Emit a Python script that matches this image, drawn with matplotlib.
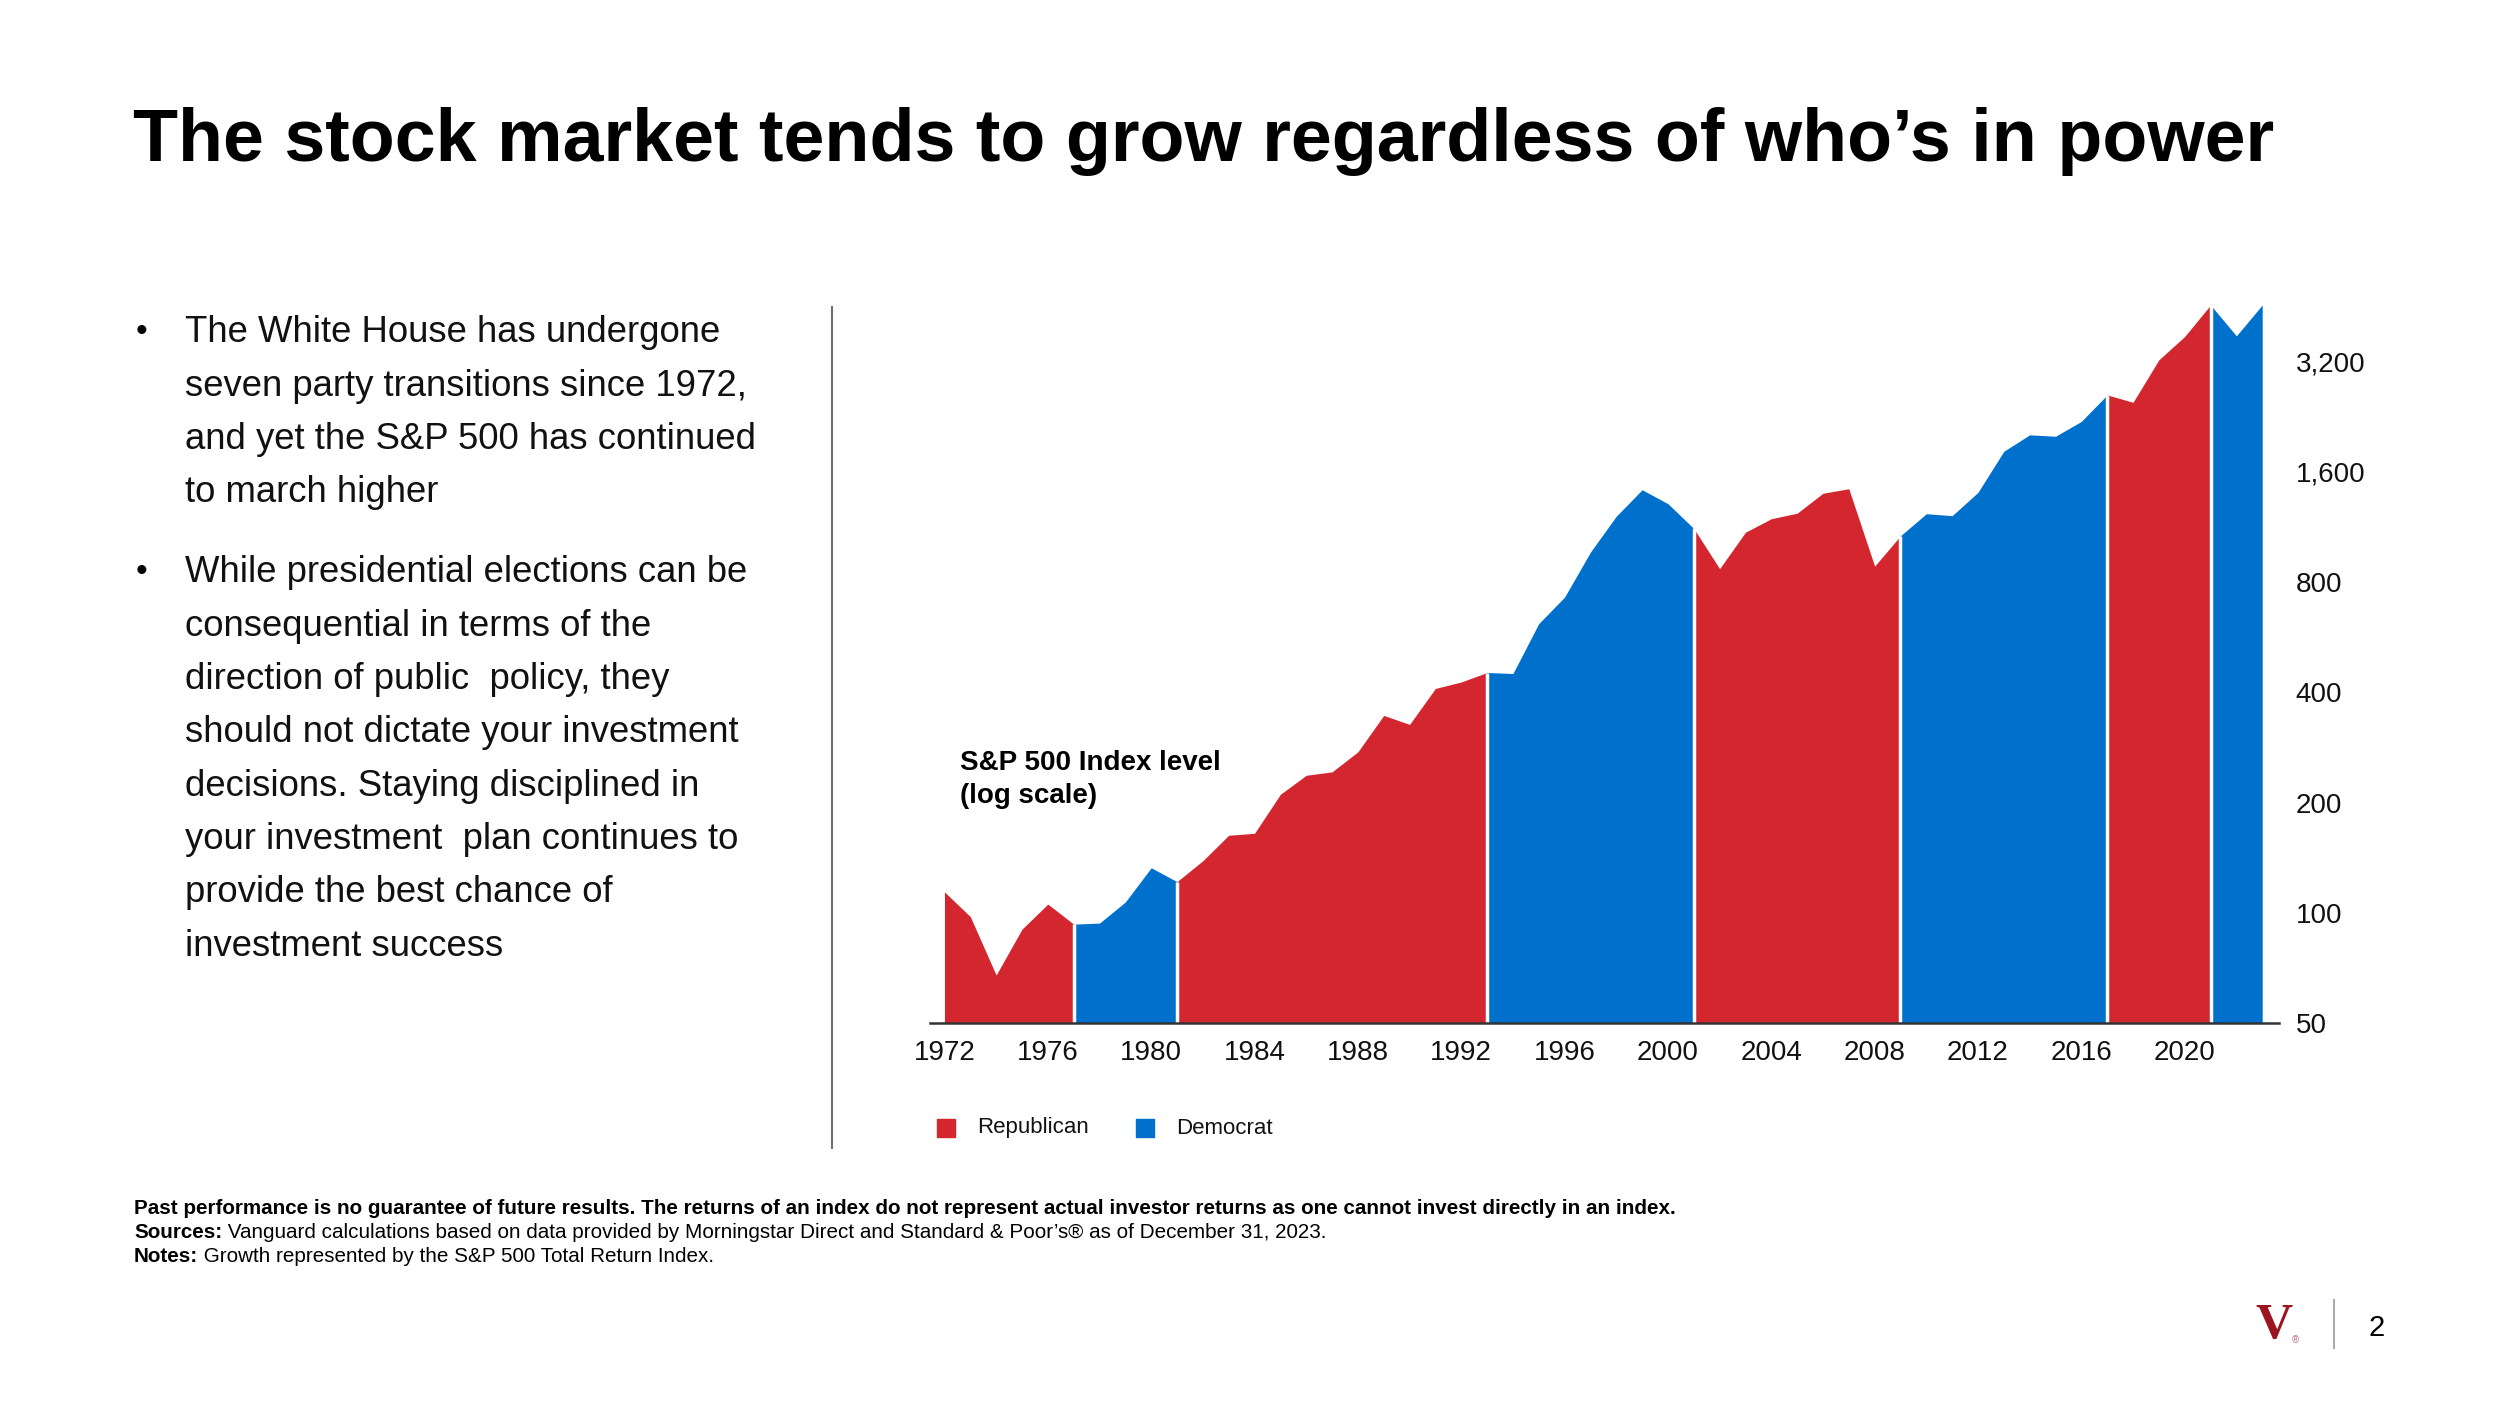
import matplotlib
matplotlib.use('Agg')
import matplotlib.pyplot as plt
import numpy as np

plt.rcParams['font.family'] = ['Liberation Sans', 'DejaVu Sans']

W, H = 2500, 1406

# S&P 500 index level (log scale)
years = list(range(1972, 2024))
values = [114, 97.6, 67.6, 90.2, 105.6, 93.1, 93.7, 107, 132.7, 121.6,
          138.7, 162.8, 164.8, 210.6, 237.3, 242.5, 275, 345.8, 326.8, 409.7,
          426.7, 452.9, 450, 616, 727.6, 965.5, 1210, 1429, 1309, 1120,
          870, 1094, 1191, 1233, 1398, 1438, 884, 1070, 1229, 1214,
          1406, 1820, 2018, 2000, 2196, 2594, 2476, 3234, 3746, 4566,
          3760, 4566]

# presidential terms as drawn
term_edges = [1972, 1977, 1981, 1993, 2001, 2009, 2017, 2021, 2023]
term_party = ['R', 'D', 'R', 'D', 'R', 'D', 'R', 'D']

party_names = {'R': 'Republican', 'D': 'Democrat'}
party_colors = {'R': '#D3262F', 'D': '#0070CD'}

y_ticks = [50, 100, 200, 400, 800, 1600, 3200]
x_ticks = list(range(1972, 2021, 4))

bullet1 = ["The White House has undergone",
           "seven party transitions since 1972,",
           "and yet the S&P 500 has continued",
           "to march higher"]
bullet2 = ["While presidential elections can be",
           "consequential in terms of the",
           "direction of public  policy, they",
           "should not dictate your investment",
           "decisions. Staying disciplined in",
           "your investment  plan continues to",
           "provide the best chance of",
           "investment success"]


def px(x, y):
    return x / W, 1 - y / H


fig = plt.figure(figsize=(W / 100, H / 100), dpi=100)
fig.patch.set_facecolor('white')

# chart area
ax = fig.add_axes([930 / W, 1 - 1023 / H, (2279 - 930) / W, (1023 - 300) / H])
yrs = np.array(years)
vals = np.array(values)
for i, party in enumerate(term_party):
    a, b = term_edges[i], term_edges[i + 1]
    m = (yrs >= a) & (yrs <= b)
    ax.fill_between(yrs[m], 50, vals[m], color=party_colors[party], lw=0)
# white separators between terms
for e in term_edges[1:-1]:
    ax.vlines(e, 50, vals[years.index(e)], color='white', lw=2.5)

ax.set_yscale('log')
ax.set_ylim(50, 4711)
ax.set_xlim(1971.44, 2023.65)
ax.yaxis.tick_right()
ax.set_yticks(y_ticks)
ax.set_yticklabels([f'{v:,}' for v in y_ticks])
ax.yaxis.set_minor_locator(matplotlib.ticker.NullLocator())
ax.set_xticks(x_ticks)
ax.set_xticklabels([str(x) for x in x_ticks])
ax.tick_params(axis='both', length=0, labelsize=20, colors='#111111')
ax.tick_params(axis='y', pad=12)
ax.tick_params(axis='x', pad=12)
for s in ['top', 'left', 'right']:
    ax.spines[s].set_visible(False)
ax.spines['bottom'].set_color('#333333')
ax.spines['bottom'].set_linewidth(1.8)
ax.patch.set_alpha(0)

fig.text(*px(960, 763), 'S&P 500 Index level', fontsize=20, fontweight='bold',
         va='center', ha='left')
fig.text(*px(960, 796), '(log scale)', fontsize=20, fontweight='bold',
         va='center', ha='left')

# legend
leg_x = [937, 1136]
for (party, lx) in zip(['R', 'D'], leg_x):
    fig.patches.append(plt.Rectangle(px(lx, 1137), 18 / W, 18 / H,
                                     transform=fig.transFigure,
                                     color=party_colors[party]))
    fig.text(*px(lx + 40, 1128), party_names[party], fontsize=16,
             va='center', ha='left', color='#111111')

# title
fig.text(*px(133, 142), 'The stock market tends to grow regardless of who’s in power',
         fontsize=53, fontweight='bold', va='center', ha='left')

# bullets
for lines, y0 in [(bullet1, 333), (bullet2, 573)]:
    fig.text(*px(136, y0), '•', fontsize=24, va='center', ha='left')
    for k, line in enumerate(lines):
        fig.text(*px(185, y0 + k * 53.3), line, fontsize=26.3, va='center',
                 ha='left', color='#111111')

# separator line
fig.add_artist(plt.Line2D([832 / W, 832 / W], [1 - 307 / H, 1 - 1148 / H],
                          color='#6f6f6f', lw=1.5))

# footnotes
renderer = fig.canvas.get_renderer()
fs = 14.9
fig.text(*px(134, 1208), 'Past performance is no guarantee of future results. The returns of an index '
         'do not represent actual investor returns as one cannot invest directly in an index.',
         fontsize=fs, fontweight='bold', va='center', ha='left')
notes = [('Sources:', ' Vanguard calculations based on data provided by Morningstar Direct and '
          'Standard & Poor’s® as of December 31, 2023.', 1232),
         ('Notes:', ' Growth represented by the S&P 500 Total Return Index.', 1256)]
for head, body, y in notes:
    t = fig.text(*px(134, y), head, fontsize=fs, fontweight='bold', va='center', ha='left')
    bb = t.get_window_extent(renderer)
    fig.text(bb.x1 / W, 1 - y / H, body, fontsize=fs, va='center', ha='left')

# logo and page number
fig.text(*px(2274, 1326), 'V', fontsize=37, fontweight='bold', family='Liberation Serif',
         color='#9A1520', va='center', ha='center')
fig.text(*px(2295, 1340), '®', fontsize=7, color='#C07080', va='center', ha='center')
fig.add_artist(plt.Line2D([2334 / W, 2334 / W], [1 - 1300 / H, 1 - 1348 / H],
                          color='#aaaaaa', lw=1.5))
fig.text(*px(2377, 1328), '2', fontsize=21, va='center', ha='center')

fig.savefig('out.png', dpi=100)
